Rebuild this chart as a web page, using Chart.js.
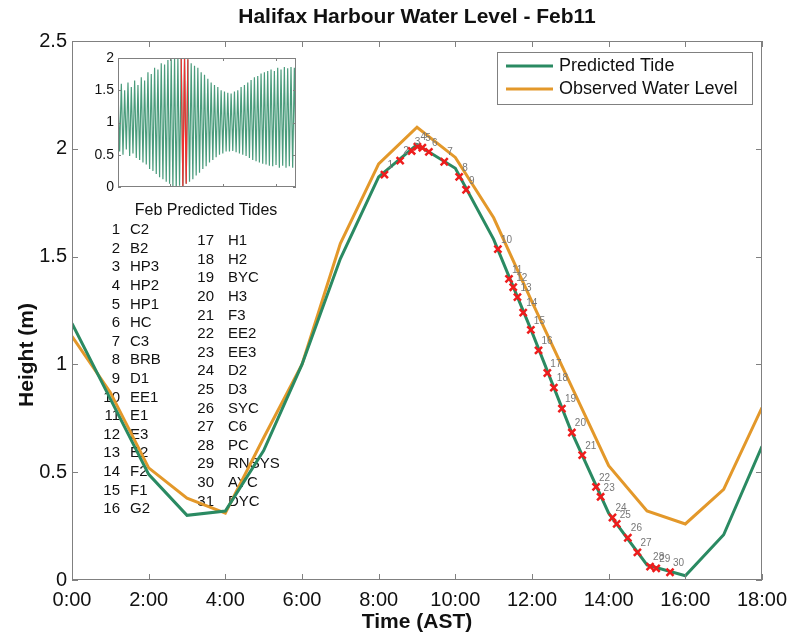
<!DOCTYPE html>
<html>
<head>
<meta charset="utf-8">
<script src="https://cdn.jsdelivr.net/npm/chart.js@4.4.0/dist/chart.umd.min.js"></script>
<style>
  html,body{margin:0;padding:0;background:#fff;}
  #wrap{position:relative;width:791px;height:635px;}
  #main{position:absolute;left:0;top:0;}
  #inset{position:absolute;left:88px;top:50px;}
</style>
</head>
<body>
<div id="wrap">
  <canvas id="main" width="791" height="635"></canvas>
  <canvas id="inset" width="214" height="145"></canvas>
</div>
<script>
// hourly water level, Feb 11 (m)
const hours=[0,1,2,3,4,5,6,7,8,9,10,11,12,13,14,15,16,17,18];
const predicted=[1.19,0.84,0.49,0.30,0.32,0.60,1.00,1.49,1.87,2.02,1.91,1.58,1.15,0.70,0.31,0.07,0.02,0.21,0.62];
const observed=[1.13,0.87,0.52,0.38,0.31,0.66,1.00,1.56,1.93,2.10,1.96,1.68,1.29,0.91,0.53,0.32,0.26,0.42,0.80];

// station visits along the predicted curve
const visitTime=[8.15,8.56,8.86,9.01,9.14,9.31,9.71,10.10,10.28,11.11,11.40,11.51,11.62,11.77,11.97,12.17,12.40,12.57,12.78,13.04,13.31,13.67,13.79,14.10,14.21,14.50,14.75,15.08,15.24,15.60];
const visitHeight=[1.88,1.945,1.99,2.01,2.005,1.986,1.94,1.87,1.81,1.535,1.397,1.358,1.312,1.24,1.16,1.065,0.96,0.892,0.795,0.684,0.579,0.432,0.386,0.29,0.26,0.196,0.128,0.062,0.054,0.036];
const stationNames=['C2','B2','HP3','HP2','HP1','HC','C3','BRB','D1','EE1','E1','E3','E2','F2','F1','G2',
  'H1','H2','BYC','H3','F3','EE2','EE3','D2','D3','SYC','C6','PC','RNSYS','AYC','DYC'];

const xTicks=[0,2,4,6,8,10,12,14,16,18];
const xTickLabels=['0:00','2:00','4:00','6:00','8:00','10:00','12:00','14:00','16:00','18:00'];
const yTicks=[0,0.5,1,1.5,2,2.5];
const yTickLabels=['0','0.5','1','1.5','2','2.5'];

// February predicted tides: successive high / low waters (m)
const insetHigh=[1.52,1.60,1.50,1.62,1.55,1.65,1.58,1.70,1.65,1.78,1.75,1.85,1.82,1.92,1.90,1.97,1.98,2.00,2.00,2.02,2.00,1.98,
  1.92,1.88,1.85,1.78,1.74,1.68,1.62,1.58,1.55,1.50,1.48,1.46,1.45,1.48,1.50,1.55,1.58,1.62,1.66,1.70,1.72,1.76,1.78,1.80,
  1.82,1.80,1.85,1.82,1.86,1.84,1.86,1.85];
const insetLow=[0.55,0.50,0.58,0.48,0.52,0.45,0.42,0.38,0.35,0.28,0.25,0.20,0.15,0.12,0.08,0.05,0.00,-0.05,0.02,0.00,0.05,0.08,
  0.12,0.18,0.22,0.28,0.32,0.38,0.42,0.46,0.50,0.52,0.55,0.55,0.56,0.54,0.52,0.50,0.48,0.45,0.42,0.40,0.38,0.36,0.35,0.33,
  0.32,0.34,0.30,0.33,0.30,0.32,0.30,0.31];
const insetYTicks=[0,0.5,1,1.5,2];
const insetYLabels=['0','0.5','1','1.5','2'];
const insetXTicks=[31,63,95];
const dayFrom=38, dayTo=42;   // Feb 11 in the tide series

const GREEN='#2a8a62', ORANGE='#e3982a', RED='#ee1c1c', AXIS='#808080', INK='#111';
const FONT='"Liberation Sans", Arial, sans-serif';

function frame(chart,xs,ys,len){
  const {ctx,chartArea:a,scales:{x,y}}=chart;
  ctx.save();
  ctx.strokeStyle=AXIS;ctx.lineWidth=1;
  ctx.strokeRect(a.left+0.5,a.top+0.5,a.right-a.left-1,a.bottom-a.top-1);
  ctx.beginPath();
  xs.forEach(v=>{const p=Math.round(x.getPixelForValue(v))+0.5;
    ctx.moveTo(p,a.bottom);ctx.lineTo(p,a.bottom-len);ctx.moveTo(p,a.top);ctx.lineTo(p,a.top+len);});
  ys.forEach(v=>{const p=Math.round(y.getPixelForValue(v))+0.5;
    ctx.moveTo(a.left,p);ctx.lineTo(a.left+len,p);ctx.moveTo(a.right,p);ctx.lineTo(a.right-len,p);});
  ctx.stroke();
  ctx.restore();
}

function text(ctx,s,x,y,font,align,rot){
  ctx.save();
  ctx.font=font;ctx.fillStyle=INK;ctx.textAlign=align||'left';ctx.textBaseline='middle';
  ctx.translate(x,y);if(rot)ctx.rotate(rot);
  ctx.fillText(s,0,0);
  ctx.restore();
}

const mainDecor={
  id:'mainDecor',
  beforeDatasetsDraw(chart){
    const ctx=chart.ctx;
    // station key, two columns
    stationNames.forEach((n,i)=>{
      const col=i<16?0:1, row=col?i-16:i;
      const y=col?241+row*18.6:230+row*18.6;
      text(ctx,String(i+1),col?214:120,y,`15px ${FONT}`,'right');
      text(ctx,n,col?228:130,y,`15px ${FONT}`,'left');
    });
    text(ctx,'Feb Predicted Tides',206,211,`16px ${FONT}`,'center');
  },
  afterDatasetsDraw(chart){
    const ctx=chart.ctx, meta=chart.getDatasetMeta(0);
    ctx.save();
    ctx.font=`10px ${FONT}`;ctx.fillStyle='#777';ctx.textAlign='left';ctx.textBaseline='middle';
    meta.data.forEach((pt,i)=>ctx.fillText(String(i+1),pt.x+3,pt.y-9));
    ctx.restore();
  },
  afterDraw(chart){
    const {ctx,chartArea:a,scales:{x,y}}=chart;
    frame(chart,xTicks,yTicks,6);
    xTicks.forEach((v,i)=>text(ctx,xTickLabels[i],x.getPixelForValue(v),600,`20px ${FONT}`,'center'));
    yTicks.forEach((v,i)=>text(ctx,yTickLabels[i],a.left-5,y.getPixelForValue(v),`20px ${FONT}`,'right'));
    text(ctx,'Halifax Harbour Water Level - Feb11',(a.left+a.right)/2,17,`bold 21px ${FONT}`,'center');
    text(ctx,'Time (AST)',(a.left+a.right)/2,622,`bold 21px ${FONT}`,'center');
    text(ctx,'Height (m)',27,355,`bold 21px ${FONT}`,'center',-Math.PI/2);
    // legend
    ctx.save();
    ctx.fillStyle='#fff';ctx.fillRect(497,52,255,52);
    ctx.strokeStyle=AXIS;ctx.lineWidth=1;ctx.strokeRect(497.5,52.5,255,52);
    [[GREEN,'Predicted Tide',66],[ORANGE,'Observed Water Level',89]].forEach(([c,l,ly])=>{
      ctx.strokeStyle=c;ctx.lineWidth=3;ctx.beginPath();ctx.moveTo(506,ly);ctx.lineTo(553,ly);ctx.stroke();
      text(ctx,l,559,ly,`18px ${FONT}`,'left');
    });
    ctx.restore();
  }
};

new Chart(document.getElementById('main'),{
  type:'line',
  data:{datasets:[
    {label:'Stations',data:visitTime.map((t,i)=>({x:t,y:visitHeight[i]})),showLine:false,
     pointStyle:'crossRot',pointRadius:5,borderColor:RED,backgroundColor:RED,borderWidth:2.5},
    {label:'Predicted Tide',data:hours.map((h,i)=>({x:h,y:predicted[i]})),borderColor:GREEN,borderWidth:3,pointRadius:0,tension:0},
    {label:'Observed Water Level',data:hours.map((h,i)=>({x:h,y:observed[i]})),borderColor:ORANGE,borderWidth:3,pointRadius:0,tension:0}
  ]},
  options:{
    responsive:false,animation:false,
    layout:{padding:{left:72,right:29,top:41,bottom:55}},
    plugins:{legend:{display:false},title:{display:false},tooltip:{enabled:false}},
    scales:{
      x:{type:'linear',min:0,max:18,display:false},
      y:{type:'linear',min:0,max:2.5,display:false}
    }
  },
  plugins:[mainDecor]
});

// inset: month of predicted tides with the 11th in red
const insetSeries=[];
insetHigh.forEach((h,i)=>insetSeries.push(h,insetLow[i]));
const insetDecor={
  id:'insetDecor',
  beforeDraw(chart){
    const {ctx,chartArea:a}=chart;
    ctx.save();ctx.fillStyle='#fff';ctx.fillRect(a.left,a.top,a.right-a.left,a.bottom-a.top);ctx.restore();
  },
  afterDraw(chart){
    const {ctx,chartArea:a,scales:{y}}=chart;
    frame(chart,insetXTicks,insetYTicks,3);
    insetYTicks.forEach((v,i)=>text(ctx,insetYLabels[i],a.left-4,y.getPixelForValue(v),`14px ${FONT}`,'right'));
  }
};
new Chart(document.getElementById('inset'),{
  type:'line',
  data:{datasets:[
    {data:insetSeries.map((v,i)=>({x:i,y:i>=dayFrom&&i<=dayTo?v:null})),borderColor:'#f03030',borderWidth:1.2,pointRadius:0,spanGaps:false},
    {data:insetSeries.map((v,i)=>({x:i,y:v})),borderColor:'#4a9c7c',borderWidth:1.2,pointRadius:0}
  ]},
  options:{
    responsive:false,animation:false,
    layout:{padding:{left:30,right:6,top:8,bottom:8}},
    plugins:{legend:{display:false},tooltip:{enabled:false}},
    scales:{
      x:{type:'linear',min:0,max:insetSeries.length-1,display:false},
      y:{type:'linear',min:0,max:2,display:false}
    }
  },
  plugins:[insetDecor]
});
</script>
</body>
</html>
